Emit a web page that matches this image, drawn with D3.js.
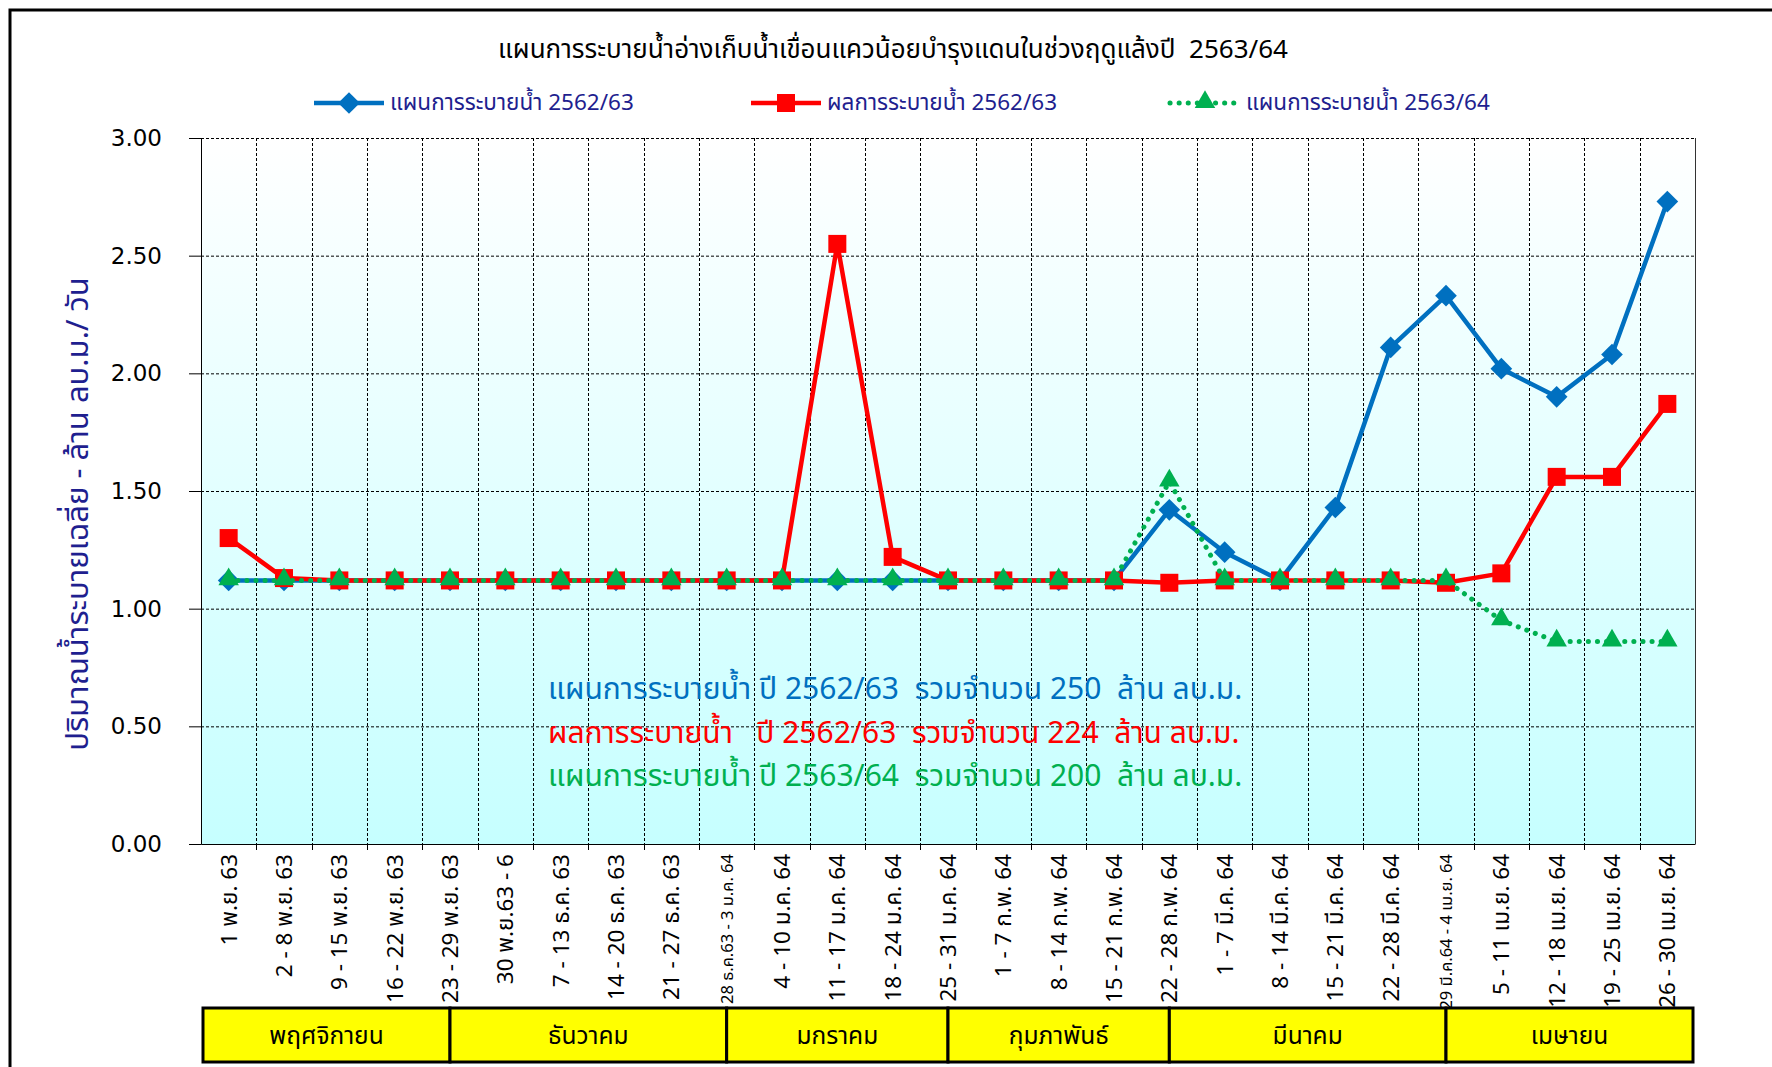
<!DOCTYPE html>
<html>
<head>
<meta charset="utf-8">
<script src="https://cdn.jsdelivr.net/npm/d3@7"></script>
<style>
  body { margin: 0; background: #fff; }
  svg text { white-space: pre; }
</style>
</head>
<body>
<svg id="chart" width="1772" height="1067"></svg>
<script>
// DATA
var weeks = ['1 พ.ย. 63', '2 - 8 พ.ย. 63', '9 - 15 พ.ย. 63', '16 - 22 พ.ย. 63', '23 - 29 พ.ย. 63',
    '30 พ.ย.63 - 6', '7 - 13 ธ.ค. 63', '14 - 20 ธ.ค. 63', '21 - 27 ธ.ค. 63', '28 ธ.ค.63 - 3 ม.ค. 64',
    '4 - 10 ม.ค. 64', '11 - 17 ม.ค. 64', '18 - 24 ม.ค. 64', '25 - 31 ม.ค. 64', '1 - 7 ก.พ. 64',
    '8 - 14 ก.พ. 64', '15 - 21 ก.พ. 64', '22 - 28 ก.พ. 64', '1 - 7 มี.ค. 64', '8 - 14 มี.ค. 64',
    '15 - 21 มี.ค. 64', '22 - 28 มี.ค. 64', '29 มี.ค.64 - 4 เม.ย. 64', '5 - 11 เม.ย. 64', '12 - 18 เม.ย. 64',
    '19 - 25 เม.ย. 64', '26 - 30 เม.ย. 64'];

var plan_6263 = [1.12, 1.12, 1.12, 1.12, 1.12, 1.12, 1.12, 1.12, 1.12, 1.12, 1.12, 1.12, 1.12, 1.12,
    1.12, 1.12, 1.12, 1.42, 1.24, 1.12, 1.43, 2.11, 2.33, 2.02, 1.90, 2.08, 2.73];
var result_6263 = [1.30, 1.13, 1.12, 1.12, 1.12, 1.12, 1.12, 1.12, 1.12, 1.12, 1.12, 2.55, 1.22, 1.12,
    1.12, 1.12, 1.12, 1.11, 1.12, 1.12, 1.12, 1.12, 1.11, 1.15, 1.56, 1.56, 1.87];
var plan_6364 = [1.12, 1.12, 1.12, 1.12, 1.12, 1.12, 1.12, 1.12, 1.12, 1.12, 1.12, 1.12, 1.12, 1.12,
    1.12, 1.12, 1.12, 1.54, 1.12, 1.12, 1.12, 1.12, 1.12, 0.95, 0.86, 0.86, 0.86];

var y_ticks = [0, 0.5, 1, 1.5, 2, 2.5, 3];

// month name and the week whose middle closes the month box
var months = ['พฤศจิกายน', 'ธันวาคม', 'มกราคม', 'กุมภาพันธ์', 'มีนาคม', 'เมษายน'];
var month_ends = [4, 9, 13, 17, 22, null];

var series_names = ['แผนการระบายน้ำ 2562/63', 'ผลการระบายน้ำ 2562/63', 'แผนการระบายน้ำ 2563/64'];
var notes = ['แผนการระบายน้ำ ปี 2562/63  รวมจำนวน 250  ล้าน ลบ.ม.',
    'ผลการระบายน้ำ   ปี 2562/63  รวมจำนวน 224  ล้าน ลบ.ม.',
    'แผนการระบายน้ำ ปี 2563/64  รวมจำนวน 200  ล้าน ลบ.ม.'];

var title = 'แผนการระบายน้ำอ่างเก็บน้ำเขื่อนแควน้อยบำรุงแดนในช่วงฤดูแล้งปี  2563/64';
var y_title = 'ปริมาณน้ำระบายเฉลี่ย - ล้าน ลบ.ม./ วัน';

// CHART
var chrt = {
    config: {
        left: 201, right: 1695, top: 138, bottom: 844,
        thai: "'Tahoma', 'Noto Sans Thai', 'Loma', 'Garuda', sans-serif",
        num: "'DejaVu Sans', 'Verdana', sans-serif",
        navy: '#1f1f8f',
        colors: ['#0070c0', '#ff0000', '#00b050']
    },
    marker: function(g, type, cx, cy, color) {
        if ( type == 0 ) {
            g.append('path').attr('d', d3.symbol(d3.symbolDiamond2, 300)())
                .attr('transform', 'translate(' + cx + ',' + cy + ')')
                .attr('fill', color);
        }
        else if ( type == 1 ) {
            g.append('rect').attr('x', cx - 9).attr('y', cy - 9).attr('width', 18).attr('height', 18)
                .attr('fill', color);
        }
        else {
            g.append('path').attr('d', d3.symbol(d3.symbolTriangle2, 300)())
                .attr('transform', 'translate(' + cx + ',' + (cy - 1) + ')')
                .attr('fill', color);
        }
    },
    build_chart: function() {
        var c = this.config;
        var svg = d3.select('svg#chart');

        // outer frame
        svg.append('rect').attr('x', 10).attr('y', 10).attr('width', 1800).attr('height', 1100)
            .attr('fill', '#fff').attr('stroke', '#000').attr('stroke-width', 3);

        var x = d3.scaleBand().domain(weeks).range([c.left, c.right]);
        var y = d3.scaleLinear().domain([0, 3]).range([c.bottom, c.top]);
        var bw = x.bandwidth();

        var defs = svg.append('defs');
        var grad = defs.append('linearGradient').attr('id', 'bg')
            .attr('x1', 0).attr('y1', 0).attr('x2', 0).attr('y2', 1);
        grad.append('stop').attr('offset', '0%').attr('stop-color', '#ffffff');
        grad.append('stop').attr('offset', '100%').attr('stop-color', '#c6ffff');

        svg.append('rect').attr('x', c.left).attr('y', c.top)
            .attr('width', c.right - c.left).attr('height', c.bottom - c.top)
            .attr('fill', 'url(#bg)');

        // grid
        var grid = svg.append('g').attr('stroke', '#000').attr('stroke-width', 1)
            .attr('stroke-dasharray', '3,2');
        grid.selectAll('line.h').data(y_ticks.slice(1)).enter().append('line')
            .attr('x1', c.left).attr('x2', c.right)
            .attr('y1', function(d) { return y(d) + 0.5; }).attr('y2', function(d) { return y(d) + 0.5; });
        grid.selectAll('line.v').data(weeks.slice(1)).enter().append('line')
            .attr('y1', c.top).attr('y2', c.bottom)
            .attr('x1', function(d) { return Math.round(x(d)) + 0.5; })
            .attr('x2', function(d) { return Math.round(x(d)) + 0.5; });
        svg.append('line').attr('x1', c.right + 0.5).attr('x2', c.right + 0.5)
            .attr('y1', c.top).attr('y2', c.bottom).attr('stroke', '#333');

        // Y axis
        var ya = svg.append('g').attr('transform', 'translate(' + c.left + ',0)')
            .call(d3.axisLeft(y).tickValues(y_ticks).tickSize(12).tickPadding(27)
                .tickFormat(d3.format('.2f')));
        ya.select('.domain').attr('stroke', '#000');
        ya.selectAll('text').attr('font-family', c.num).attr('font-size', 23).attr('fill', '#000');

        // X axis
        var xa = svg.append('g').attr('transform', 'translate(0,' + c.bottom + ')')
            .call(d3.axisBottom(x).tickSize(0).tickPadding(0));
        xa.select('.domain').attr('stroke', '#000');
        xa.selectAll('.tick text')
            .attr('text-anchor', 'end').attr('dy', 0).attr('y', 0)
            .attr('font-family', c.thai).attr('fill', '#000')
            .attr('font-size', function(d) { return d.length > 16 ? 16.5 : 22.5; })
            .attr('transform', function(d) {
                return 'translate(' + (d.length > 16 ? 6 : 8) + ',10) rotate(-90)';
            });
        svg.append('g').selectAll('line').data(weeks.slice(1)).enter().append('line')
            .attr('x1', function(d) { return Math.round(x(d)) + 0.5; })
            .attr('x2', function(d) { return Math.round(x(d)) + 0.5; })
            .attr('y1', c.bottom).attr('y2', c.bottom + 6).attr('stroke', '#000');

        // series
        var all = [plan_6263, result_6263, plan_6364];
        all.forEach(function(vals, si) {
            var line = d3.line()
                .x(function(d, i) { return x(weeks[i]) + bw / 2; })
                .y(function(d) { return y(d); });
            var p = svg.append('path').datum(vals).attr('d', line)
                .attr('fill', 'none').attr('stroke', c.colors[si]).attr('stroke-width', 4.5)
                .attr('stroke-linejoin', 'round');
            if ( si == 2 ) p.attr('stroke-dasharray', '0.1,9').attr('stroke-linecap', 'round')
                .attr('stroke-width', 5);
            var g = svg.append('g');
            vals.forEach(function(v, i) {
                chrt.marker(g, si, x(weeks[i]) + bw / 2, y(v), c.colors[si]);
            });
        });

        // notes
        notes.forEach(function(t, i) {
            svg.append('text').attr('x', 548).attr('y', 699 + i * 43.5)
                .attr('font-family', c.thai).attr('font-size', 30)
                .attr('fill', c.colors[i]).text(t);
        });

        // title
        svg.append('text').attr('x', 893).attr('y', 58).attr('text-anchor', 'middle')
            .attr('font-family', c.thai).attr('font-size', 26).attr('fill', '#000').text(title);

        // legend
        var lx = [314, 751, 1170];
        series_names.forEach(function(name, i) {
            var g = svg.append('g');
            var ln = g.append('line').attr('x1', lx[i]).attr('x2', lx[i] + 70)
                .attr('y1', 103).attr('y2', 103).attr('stroke', c.colors[i]).attr('stroke-width', 4.5);
            if ( i == 2 ) ln.attr('stroke-dasharray', '0.1,9').attr('stroke-linecap', 'round')
                .attr('stroke-width', 5);
            chrt.marker(g, i, lx[i] + 35, 103, c.colors[i]);
            g.append('text').attr('x', lx[i] + 76).attr('y', 110)
                .attr('font-family', c.thai).attr('font-size', 22.5).attr('fill', c.navy).text(name);
        });

        // Y title
        svg.append('text').attr('transform', 'translate(88,514) rotate(-90)')
            .attr('text-anchor', 'middle').attr('font-family', c.thai).attr('font-size', 31)
            .attr('fill', c.navy).text(y_title);

        // month boxes
        var edges = [c.left + 2].concat(month_ends.map(function(e) {
            return e == null ? c.right - 2 : x(weeks[e]) + bw / 2;
        }));
        months.forEach(function(m, i) {
            svg.append('rect').attr('x', edges[i]).attr('y', 1008)
                .attr('width', edges[i + 1] - edges[i]).attr('height', 54)
                .attr('fill', '#ffff00').attr('stroke', '#000').attr('stroke-width', 3);
            svg.append('text').attr('x', (edges[i] + edges[i + 1]) / 2).attr('y', 1044)
                .attr('text-anchor', 'middle').attr('font-family', c.thai).attr('font-size', 24.5)
                .attr('fill', '#000').text(m);
        });
    },
    init: function() {
        chrt.build_chart();
    }
}
chrt.init();
</script>
</body>
</html>
